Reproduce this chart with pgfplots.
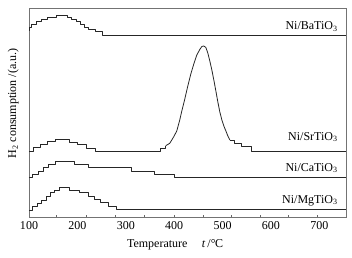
\documentclass[border=0pt]{standalone}
\usepackage{fontspec}
\setmainfont{Liberation Serif}
\usepackage{pgfplots}
\pgfplotsset{compat=1.18}
\begin{document}
\fontsize{12}{14}\selectfont
\begin{tikzpicture}
\path[use as bounding box] (-29pt,-40pt) rectangle (323pt,217pt);
\begin{axis}[
  at={(0,0)}, anchor=south west,
  scale only axis, width=317pt, height=209pt,
  xmin=100, xmax=755, ymin=0, ymax=209,
  axis line style={black!55, line width=0.7pt},
  xtick={100,200,300,400,500,600,700},
  xticklabels={100,200,300,400,500,600,700},
  major tick length=0pt,
  minor xtick={156.9,218.4,279.1,339.1,399.2,459.2,517.2,577.3,635.2,695.3},
  minor tick length=2.5pt,
  minor tick style={black!60, line width=0.6pt},
  xtick pos=lower,
  ytick=\empty,
  tick label style={font=\fontsize{12}{14}\selectfont},
  xlabel={Temperature\hspace{1.2em}\textit{t}\,/°\kern-0.05em C},
  xlabel style={at={(axis description cs:0.4606,-0.134)}, anchor=center, font=\fontsize{12}{14}\selectfont},
  ylabel={H\textsubscript{2} consumption /(a.u.)},
  ylabel style={at={(axis description cs:-0.05,0.543)}, anchor=center, font=\fontsize{12}{14}\selectfont},
  every axis plot/.append style={black!85, line width=0.8pt, line join=round},
  clip=false,
]
% Ni/BaTiO3
\addplot[const plot] coordinates {(100,187)(100.8,189.3)(105.8,192.7)(114.9,195.3)(126.5,198)(137.7,200)(156.3,202)(180.3,200)(188.6,198)(197.7,195.3)(206.6,192.7)(214.9,190)(223.2,188)(237,185.3)(250.7,181.3)(755,181.3)};
% Ni/SrTiO3
\addplot[const plot] coordinates {(100,66)(109.3,69.7)(123.8,73)(138.9,75.7)(154.2,78)(183.8,75)(201,72.3)(218.4,69)(237.7,66)(371.6,68.7)(382.6,71.3)};
\addplot[sharp plot] coordinates {(382.6,71.3)(390.8,73.7)(395.0,77)(399.1,80.3)(405.3,86)(411.5,97)(415.7,106)(421.9,118)(428.1,131)(434.3,143)(440.5,153)(446.7,162)(452.9,167.5)(457.1,170.5)(461.2,171)(465.4,169.5)(469.5,164)(473.6,156)(477.8,147)(481.9,137)(486.1,126)(490.2,115)(494.3,105)(498.5,97)(502.6,91)(506.8,86)(510.9,81)(515.0,77)};
\addplot[const plot] coordinates {(515,77)(525.4,73.7)(539.3,70.3)(560,66)(755,66)};
% Ni/CaTiO3
\addplot[const plot] coordinates {(100,39.3)(107.9,42.7)(119.7,45.7)(130.6,49.3)(140.4,52.3)(154.2,55.3)(194.2,52.7)(221.7,49.3)(311.6,45.5)(359.8,43)(401.2,39.7)(755,39.7)};
% Ni/MgTiO3
\addplot[const plot] coordinates {(100,7)(107.9,10.3)(118.2,13.7)(126.5,17)(135.6,21)(144.5,24.3)(152.8,26.3)(163.1,29.3)(183.8,27)(204.5,24.3)(221.7,21)(235.6,17.7)(248,14.3)(263.1,11)(280.5,7.7)(755,7.7)};
\node[anchor=base east, inner sep=0pt] at (axis cs:738,187.3) {Ni/BaTiO\textsubscript{3}};
\node[anchor=base east, inner sep=0pt] at (axis cs:738,77) {Ni/SrTiO\textsubscript{3}};
\node[anchor=base east, inner sep=0pt] at (axis cs:738,46) {Ni/CaTiO\textsubscript{3}};
\node[anchor=base east, inner sep=0pt] at (axis cs:738,14) {Ni/MgTiO\textsubscript{3}};
\end{axis}
\end{tikzpicture}
\end{document}
